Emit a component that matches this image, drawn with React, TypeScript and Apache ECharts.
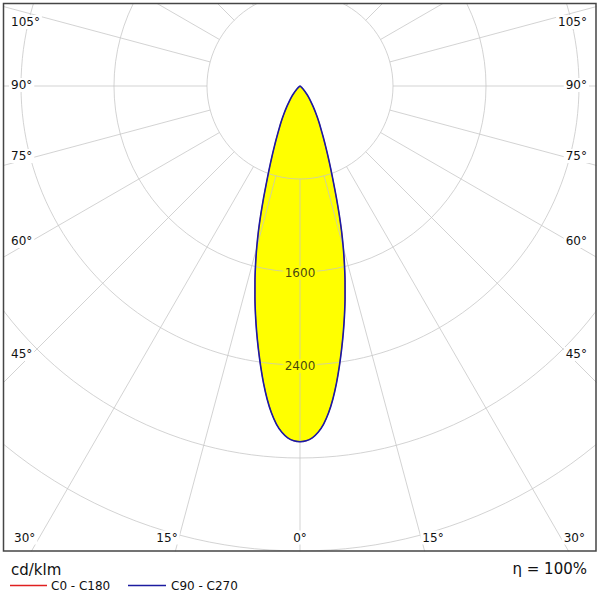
import React, { useEffect, useRef } from 'react';
import * as echarts from 'echarts';

// Luminous intensity (cd/klm) vs. angle from nadir (degrees)
const gammaAngles = [0, 1, 2, 3, 4, 5, 6, 7, 8, 9, 10, 11, 12, 13, 14, 15, 16, 17, 18, 19, 20, 21, 22, 23, 24, 25, 27.5, 30, 32.5, 35, 37.5, 40, 45, 50, 55, 60, 70];
const c0c180 = [3060, 3053, 3028, 2983, 2915, 2822, 2707, 2575, 2433, 2290, 2148, 2006, 1864, 1722, 1580, 1438, 1296, 1152, 1015, 893, 793, 706, 630, 564, 506, 455, 358, 276, 211, 159, 121, 87, 40, 18, 8, 3, 0];
const c90c270 = [3060, 3053, 3028, 2983, 2915, 2822, 2707, 2575, 2433, 2290, 2148, 2006, 1864, 1722, 1580, 1438, 1296, 1152, 1015, 893, 793, 706, 630, 564, 506, 455, 358, 276, 211, 159, 121, 87, 40, 18, 8, 3, 0];

const ringLabelValues = [1600, 2400];
const radialAngles = [-165, -150, -135, -120, -105, -90, -75, -60, -45, -30, -15, 0, 15, 30, 45, 60, 75, 90, 105, 120, 135, 150, 165, 180];
const sideLabels = ['105°', '90°', '75°', '60°', '45°'];
const bottomLabels = ['30°', '15°', '0°', '15°', '30°'];
const legendNames = ['C0 - C180', 'C90 - C270'];
const unitLabel = 'cd/klm';
const etaLabel = 'η = 100%';

const RING_STEP = 800;
const R_MAX = 4800;

function mirror(vals: number[]) {
  const pts: number[][] = [];
  for (let i = gammaAngles.length - 1; i > 0; i--) pts.push([vals[i], -gammaAngles[i]]);
  for (let i = 0; i < gammaAngles.length; i++) pts.push([vals[i], gammaAngles[i]]);
  return pts;
}

const FONT = '"DejaVu Sans", Verdana, sans-serif';
const GRID = '#c4c4c4';

function labelText(text: string, x: number, y: number, align: string) {
  return {
    type: 'text',
    z: 110,
    style: {
      text,
      x,
      y,
      fill: '#111',
      font: `12px ${FONT}`,
      align,
      textAlign: align,
      verticalAlign: 'middle',
      textVerticalAlign: 'middle',
      backgroundColor: '#ffffff',
      padding: [1, 2],
    },
  };
}

export default function App() {
  const ref = useRef<HTMLDivElement>(null);
  useEffect(() => {
    const chart = echarts.init(ref.current!, null, { renderer: 'svg' });
    const sideY = [22, 85, 156, 241, 354];
    const bottomX = [12, 167, 300, 433, 587];
    const bottomAlign = ['left', 'center', 'center', 'center', 'right'];
    const graphics: any[] = [
      { type: 'rect', z: 100, shape: { x: 0, y: 0, width: 600, height: 3 }, style: { fill: '#fff' } },
      { type: 'rect', z: 100, shape: { x: 0, y: 0, width: 3, height: 600 }, style: { fill: '#fff' } },
      { type: 'rect', z: 100, shape: { x: 596.5, y: 0, width: 4, height: 600 }, style: { fill: '#fff' } },
      { type: 'rect', z: 100, shape: { x: 0, y: 551.5, width: 600, height: 49 }, style: { fill: '#fff' } },
      { type: 'rect', z: 105, shape: { x: 3.5, y: 3.5, width: 592.5, height: 547.5 }, style: { fill: 'none', stroke: '#454545', lineWidth: 1.5 } },
    ];
    sideLabels.forEach((t, i) => {
      graphics.push(labelText(t, 9, sideY[i], 'left'));
      graphics.push(labelText(t, 589, sideY[i], 'right'));
    });
    bottomLabels.forEach((t, i) => {
      graphics.push(labelText(t, bottomX[i], 537.5, bottomAlign[i]));
    });
    graphics.push({
      type: 'text', z: 110,
      style: { text: unitLabel, x: 11, y: 570, fill: '#111', font: `15px ${FONT}`, align: 'left', textAlign: 'left', verticalAlign: 'middle', textVerticalAlign: 'middle' },
    });
    graphics.push({
      type: 'text', z: 110,
      style: { text: etaLabel, x: 587, y: 569, fill: '#111', font: `15px ${FONT}`, align: 'right', textAlign: 'right', verticalAlign: 'middle', textVerticalAlign: 'middle' },
    });
    graphics.push({ type: 'line', z: 110, shape: { x1: 10, y1: 585.5, x2: 47, y2: 585.5 }, style: { stroke: '#e02020', lineWidth: 1.5 } });
    graphics.push({
      type: 'text', z: 110,
      style: { text: legendNames[0], x: 51, y: 586, fill: '#111', font: `12px ${FONT}`, align: 'left', textAlign: 'left', verticalAlign: 'middle', textVerticalAlign: 'middle' },
    });
    graphics.push({ type: 'line', z: 110, shape: { x1: 128, y1: 585.5, x2: 166, y2: 585.5 }, style: { stroke: '#1c1ca0', lineWidth: 1.5 } });
    graphics.push({
      type: 'text', z: 110,
      style: { text: legendNames[1], x: 171, y: 586, fill: '#111', font: `12px ${FONT}`, align: 'left', textAlign: 'left', verticalAlign: 'middle', textVerticalAlign: 'middle' },
    });

    const option: any = {
      animation: false,
      backgroundColor: '#ffffff',
      polar: { center: [300, 86], radius: 558 },
      angleAxis: {
        type: 'value',
        min: -180,
        max: 180,
        startAngle: 90,
        clockwise: true,
        axisLine: { show: false },
        axisTick: { show: false },
        axisLabel: { show: false },
        splitLine: { show: false },
      },
      radiusAxis: {
        type: 'value',
        min: 0,
        max: R_MAX,
        interval: RING_STEP,
        z: 5,
        axisLine: { show: false },
        axisTick: { show: false },
        axisLabel: { show: false },
        splitLine: { show: true, lineStyle: { color: GRID, width: 1, opacity: 0.75 } },
      },
      graphic: graphics,
      series: [
        {
          name: legendNames[0],
          type: 'line',
          coordinateSystem: 'polar',
          data: mirror(c0c180),
          symbol: 'none',
          smooth: 0.2,
          z: 2,
          lineStyle: { color: '#e02020', width: 0.8 },
          areaStyle: { color: '#ffff00', opacity: 1 },
        },
        {
          type: 'custom',
          coordinateSystem: 'polar',
          z: 5,
          data: radialAngles.map((a) => [R_MAX, a]),
          encode: { radius: 0, angle: 1 },
          renderItem: (params: any, api: any) => {
            const a = api.value(1);
            const p0 = api.coord([RING_STEP, a]);
            const p1 = api.coord([R_MAX, a]);
            return {
              type: 'line',
              shape: { x1: p0[0], y1: p0[1], x2: p1[0], y2: p1[1] },
              style: { stroke: GRID, lineWidth: 1, opacity: 0.75 },
            };
          },
        },
        {
          name: legendNames[1],
          type: 'line',
          coordinateSystem: 'polar',
          data: mirror(c90c270),
          symbol: 'none',
          smooth: 0.2,
          z: 10,
          lineStyle: { color: '#1a1aa6', width: 1.6 },
        },
        {
          type: 'scatter',
          coordinateSystem: 'polar',
          z: 20,
          symbolSize: 0,
          data: ringLabelValues.map((v) => [v, 0]),
          label: {
            show: true,
            position: 'inside',
            offset: [0, 1],
            formatter: (p: any) => String(p.value[0]),
            color: '#111',
            fontSize: 12,
            fontFamily: FONT,
            backgroundColor: '#ffff00',
            padding: [1, 2],
          },
        },
      ],
    };
    chart.setOption(option);
    return () => chart.dispose();
  }, []);
  return <div ref={ref} style={{ position: 'fixed', left: 0, top: 0, width: 600, height: 600, background: '#fff' }} />;
}
